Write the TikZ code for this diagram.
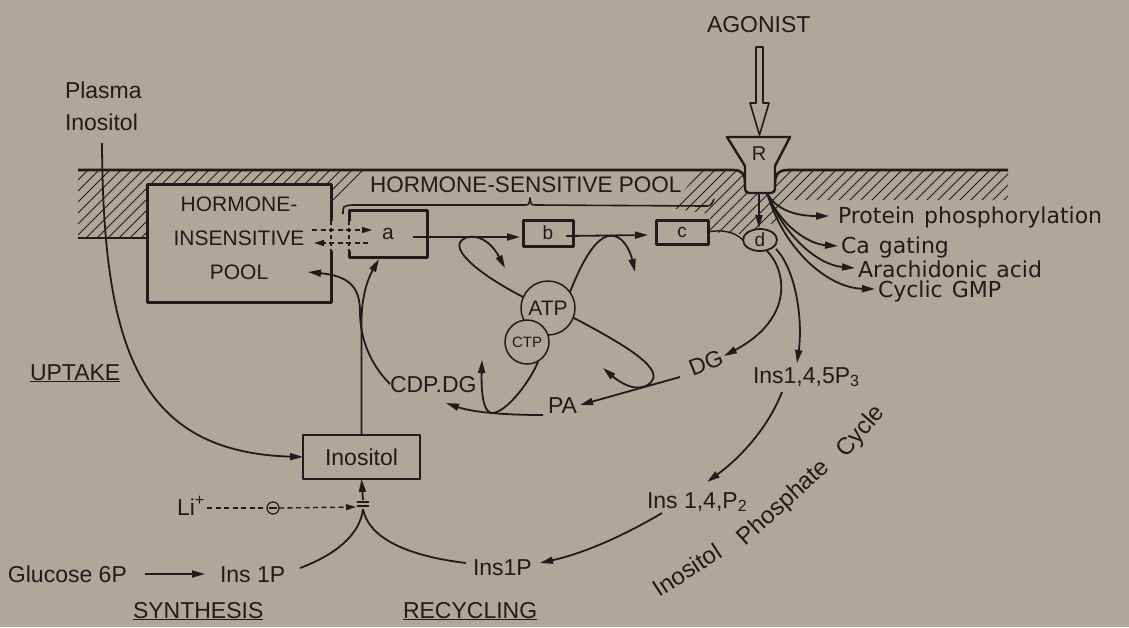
\documentclass[tikz,border=0pt]{standalone}
\usepackage{fontspec}
\setmainfont{Liberation Sans}
\newfontfamily\rfont{DejaVu Sans}
\usetikzlibrary{arrows.meta,shapes.geometric}
\definecolor{bg}{RGB}{176,167,152}
\definecolor{ink}{RGB}{30,28,28}
\begin{document}
\begin{tikzpicture}[x=1pt,y=-1pt,line join=round,
  every node/.style={text=ink,inner sep=0pt,outer sep=0pt},
  lbl/.style={font=\fontsize{23}{26}\selectfont,anchor=base west},
  rlbl/.style={font=\rfont\fontsize{22}{26}\selectfont,anchor=base west},
  cyc/.style={font=\fontsize{24}{26}\selectfont},
  ln/.style={draw=ink,line width=1.8pt},
  arr/.style={ln,-{Triangle[length=13pt,width=7pt]}},
  darr/.style={draw=ink,line width=1.4pt,dash pattern=on 5pt off 3.5pt,-{Triangle[length=10pt,width=6pt]}},
  tbox/.style={draw=ink,line width=3pt,fill=bg},
  memb/.style={draw=ink,line width=2.6pt}]
\fill[bg] (0,0) rectangle (1129,627);
\useasboundingbox (0,0) rectangle (1129,627);

% hatching of the membrane
\begin{scope}
\clip (78,171) -- (365,171) -- (333,203) -- (333,185) -- (147,185) -- (147,238) -- (78,238) -- cycle
      (700,171) -- (1008,171) -- (1008,200) -- (790,200) -- (775,222) -- (760,229) -- (742,234) -- (710,232) -- (710,214) -- (670,208) -- cycle;
\foreach \i in {-200,-189,...,1100} \draw[ink,line width=0.9pt] (\i,260) -- ++(100,-100);
\end{scope}

% membrane lines
\draw[memb] (78,170) -- (733,170) .. controls (743,170) and (745,175) .. (745,183);
\draw[memb] (775,183) .. controls (775,175) and (778,170) .. (788,170) -- (1008,170);
\draw[memb] (78,238) -- (147,238);
\draw[ink,line width=1.6pt] (343,214) .. controls (343,206) .. (352,205) -- (524,205) .. controls (529,205) .. (530,198) .. controls (531,205) .. (536,205) -- (704,206) .. controls (711,206) .. (714,199);
\node[lbl,font=\fontsize{22.5}{26}\selectfont] (hsp) at (370,192) {HORMONE-SENSITIVE POOL};

% receptor and agonist
\draw[ink,line width=2.4pt,fill=bg] (727,137) -- (790,137) -- (775,166) {[rounded corners=4pt] -- (775,193) -- (745,193)} -- (745,166) -- cycle;
\node[font=\fontsize{20}{22}\selectfont] (R) at (759,154) {R};
\draw[ink,line width=1.6pt,fill=bg] (756,47) -- (763,47) -- (763,103) -- (769,103) -- (759.5,135) -- (750,103) -- (756,103) -- cycle;
\node[lbl] (agonist) at (707,32) {AGONIST};

% pools and boxes
\node[tbox,minimum width=184pt,minimum height=118pt] (pool) at (239,243) {};
\fill[bg] (327,221) rectangle (335,251);
\draw[ink,line width=1.5pt,dash pattern=on 4pt off 3pt] (331,221) -- (331,251);
\node[align=center,font=\fontsize{21}{34}\selectfont] (pooltxt) at (239,238) {HORMONE-\\INSENSITIVE\\POOL};
\node[tbox,minimum width=78pt,minimum height=47pt,font=\fontsize{21}{22}\selectfont] (a) at (388,233.5) {a};
\fill[bg] (345,221) rectangle (353,251);
\draw[ink,line width=1.5pt,dash pattern=on 4pt off 3pt] (349,221) -- (349,251);
\node[tbox,minimum width=50pt,minimum height=26pt,font=\fontsize{19}{20}\selectfont] (b) at (548,233) {b};
\node[tbox,minimum width=52pt,minimum height=24pt,font=\fontsize{19}{20}\selectfont] (c) at (682,232) {c};
\node[draw=ink,line width=1.8pt,ellipse,minimum width=34pt,minimum height=22pt,fill=bg,font=\fontsize{19}{20}\selectfont] (d) at (760,240) {d};

\draw[darr] (312,230) -- (372,230);
\draw[darr] (368,243) -- (314,243);

% main chain
\draw[arr] (413,237) -- (520,237);
\draw[arr] (566,236) -- (648,235);
\draw[ln,line width=1.4pt] (c.east) .. controls (722,229) and (735,232) .. (d.west);
\draw[arr] (759,193) -- (759,228);

% fan from receptor
\draw[arr] (767,193) .. controls (776,210) and (796,216) .. (829,216);
\draw[arr] (767,193) .. controls (780,225) and (808,244) .. (838,246);
\draw[arr] (767,193) .. controls (784,236) and (818,265) .. (855,268);
\draw[arr] (767,193) .. controls (784,250) and (828,288) .. (875,289);
\node[rlbl] (pp) at (838,223) {Protein\hspace{9pt}phosphorylation};
\node[rlbl] (ca) at (841,253) {Ca\hspace{9pt}gating};
\node[rlbl] (aa) at (858,277) {Arachidonic\hspace{9pt}acid};
\node[rlbl] (cg) at (878,297) {Cyclic\hspace{9pt}GMP};

% from d
\node[lbl,anchor=center,rotate=22] (dg) at (706,363) {DG};
\node[lbl] (ip3) at (753,383) {Ins1,4,5P\textsubscript{3}};
\draw[arr] (767,251) .. controls (786,270) and (795,318) .. (724,356);
\draw[arr] (776,249) .. controls (796,270) and (803,320) .. (797,363);

% ATP / CTP loops
\draw[arr] (525,298) .. controls (480,275) and (450,250) .. (462,240) .. controls (470,233) and (488,236) .. (505,268);
\draw[arr] (570,292) .. controls (582,262) and (594,240) .. (608,236) .. controls (622,233) and (630,250) .. (635,272);
\draw[arr] (574,318) .. controls (625,345) and (668,370) .. (649,384) .. controls (636,394) and (618,381) .. (603,368);
\draw[arr] (538,362) .. controls (528,385) and (505,413) .. (492,413) .. controls (484,413) and (481,395) .. (482,360);
\node[circle,draw=ink,line width=1.5pt,fill=bg,minimum size=54pt,font=\fontsize{21}{22}\selectfont] (atp) at (548,308) {ATP};
\node[circle,draw=ink,line width=1.5pt,fill=bg,minimum size=44pt,font=\fontsize{15}{16}\selectfont] (ctp) at (527,342) {CTP};

\node[lbl] (pa) at (548,413) {PA};
\node[lbl] (cdp) at (390,392) {CDP.DG};
\draw[arr] (680,377) -- (580,405);
\draw[arr] (543,415) .. controls (510,415) and (475,413) .. (446,403);

% left side
\node[lbl] (plasma) at (65,98) {Plasma};
\node[lbl] (plino) at (65,130) {Inositol};
\node[lbl] (uptake) at (30,380) {\underline{UPTAKE}};
\node[draw=ink,line width=1.5pt,minimum width=117pt,minimum height=44pt,font=\fontsize{23}{26}\selectfont] (ino) at (361.5,457) {Inositol};
\draw[arr] (102,143) .. controls (103,350) and (140,452) .. (ino.west);
\draw[arr] (ino.north) -- (361.5,322) .. controls (361.5,292) and (370,275) .. (379,259);
\draw[arr] (cdp.west) .. controls (368,362) and (360,335) .. (360,312) .. controls (360,288) and (350,276) .. (308,272);

% lithium
\node[lbl] (li) at (177,515) {Li\textsuperscript{+}};
\node[circle,draw=ink,line width=1.2pt,minimum size=12pt] (inh) at (273,508) {};
\draw[ink,line width=1.2pt] (269,508) -- (277,508);
\draw[ink,line width=1.4pt,dash pattern=on 5pt off 3.5pt] (207,508) -- (inh.west);
\draw[darr] (inh.east) -- (356,507);
\coordinate (J) at (363,509);
\draw[ink,line width=1.4pt] (357,502) -- (369,502) (357,506) -- (369,506);
\draw[arr] (363,500) -- (ino.south);

% synthesis / recycling
\node[lbl] (glc) at (8,582) {Glucose 6P};
\node[lbl] (ins1p) at (220,582) {Ins 1P};
\node[lbl] (synth) at (133,618) {\underline{SYNTHESIS}};
\node[lbl] (recyc) at (403,618) {\underline{RECYCLING}};
\node[lbl] (ins1pr) at (473,575) {Ins1P};
\node[lbl] (ip2) at (647,508) {Ins 1,4,P\textsubscript{2}};
\draw[arr] (145,574) -- (205,574);
\draw[ln] (300,568) .. controls (335,555) and (360,535) .. (J);
\draw[ln] (466,563) .. controls (400,555) and (368,535) .. (J);
\draw[arr] (782,392) .. controls (768,428) and (740,458) .. (707,482);
\draw[arr] (662,513) .. controls (625,535) and (585,553) .. (540,563);

% curved title of the cycle
\node[cyc,rotate=33] (cyc1) at (687,570) {Inositol};
\node[cyc,rotate=42] (cyc2) at (784,503) {Phosphate};
\node[cyc,rotate=49] (cyc3) at (861,432) {Cycle};
\end{tikzpicture}
\end{document}
